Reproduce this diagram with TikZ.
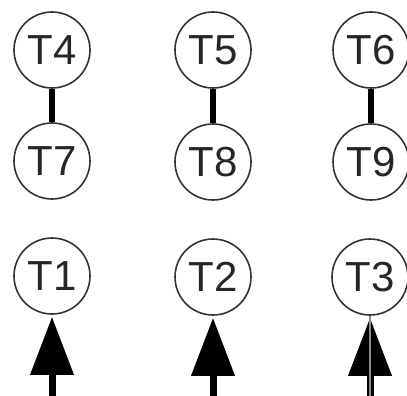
\documentclass[tikz,border=0pt]{standalone}
\usepackage{fontspec}
\setmainfont{Liberation Sans}
\usetikzlibrary{arrows.meta}
\begin{document}
\begin{tikzpicture}[x=1pt,y=1pt,
  tnode/.style={circle,draw=black!80,line width=1.6pt,minimum size=76pt,inner sep=0pt,
    font=\fontsize{42}{42}\selectfont,text=black!85},
  link/.style={line width=6pt,black},
  inarrow/.style={line width=7pt,black,-{Triangle[length=58pt,width=42pt]},shorten >=2pt}]
\useasboundingbox (0,0) rectangle (407,-396);
\node[tnode] (T4) at (52,-50) {T4};
\node[tnode] (T5) at (213,-50) {T5};
\node[tnode] (T6) at (371,-50) {T6};
\node[tnode] (T7) at (52,-161) {T7};
\node[tnode] (T8) at (213,-162) {T8};
\node[tnode] (T9) at (371,-162) {T9};
\node[tnode] (T1) at (52,-276) {T1};
\node[tnode] (T2) at (213,-277) {T2};
\node[tnode] (T3) at (370,-277) {T3};
\draw[link] (T4) -- (T7);
\draw[link] (T5) -- (T8);
\draw[link] (T6) -- (T9);
\coordinate (b1) at (52,-400);
\coordinate (b2) at (213,-400);
\coordinate (b3) at (370,-400);
\draw[inarrow] (b1) -- (T1);
\draw[inarrow] (b2) -- (T2);
\draw[inarrow] (b3) -- (T3);
\draw[line width=1.5pt,black!45] (b3) -- (T3);
\end{tikzpicture}
\end{document}
